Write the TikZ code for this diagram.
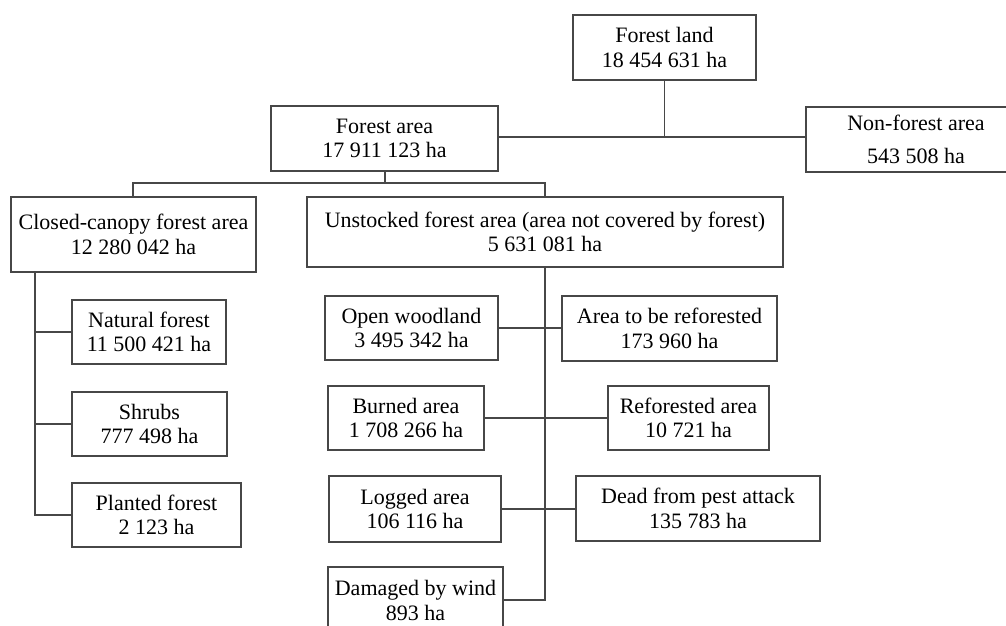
\documentclass[tikz,border=0pt]{standalone}
\usepackage{fontspec}
\setmainfont{Liberation Serif}
\newcommand\mybox[7][]{%
  \node[box,#1,minimum width={#5pt-#3pt},minimum height={#6pt-#4pt}] (#2) at ({(#3+#5)/2},{(#4+#6)/2}) {#7};}
\begin{document}
\begin{tikzpicture}[x=1pt,y=-1pt,
  box/.style={draw=black!72, line width=1.4pt, inner sep=0pt, align=center,
    font=\fontsize{22}{24.5}\selectfont, text=black},
  conn/.style={draw=black!72, line width=1.4pt}]
\useasboundingbox (0,0) rectangle (1006,625);
\clip (0,0) rectangle (1006,625);

\mybox{land}{573}{15}{756}{80}{Forest land\\18 454 631 ha}
\mybox{farea}{271}{106}{498}{171}{Forest area\\17 911 123 ha}
\mybox[font=\fontsize{22}{33}\selectfont]{nonf}{806}{107}{1026}{172}{Non-forest area\\543 508 ha}
\mybox{closed}{11}{197}{256}{272}{Closed-canopy forest area\\12 280 042 ha}
\mybox{unst}{307}{197}{783}{267}{Unstocked forest area (area not covered by forest)\\5 631 081 ha}
\mybox{natural}{72}{300}{226}{364}{Natural forest\\11 500 421 ha}
\mybox{shrubs}{72}{392}{227}{456}{Shrubs\\777 498 ha}
\mybox{planted}{72}{483}{241}{547}{Planted forest\\2 123 ha}
\mybox{open}{325}{296}{498}{360}{Open woodland\\3 495 342 ha}
\mybox{tobe}{562}{296}{777}{361}{Area to be reforested\\173 960 ha}
\mybox{burned}{328}{386}{484}{450}{Burned area\\1 708 266 ha}
\mybox{refor}{608}{386}{769}{450}{Reforested area\\10 721 ha}
\mybox{logged}{329}{476}{501}{542}{Logged area\\106 116 ha}
\mybox{dead}{576}{476}{820}{541}{Dead from pest attack\\135 783 ha}
\mybox{wind}{328}{567}{503}{634}{Damaged by wind\\893 ha}

% top level
\coordinate (j1) at (664.5,137);
\draw[conn] (land.south) -- (j1);
\draw[conn] (farea.east |- j1) -- (nonf.west |- j1);
% forest area split
\coordinate (j2) at (385,183);
\coordinate (cl) at (133,183);
\coordinate (ur) at (545,183);
\draw[conn] (farea.south -| j2) -- (j2);
\draw[conn] (closed.north -| cl) -- (cl) -- (ur) -- (unst.north -| ur);
% closed canopy trunk
\coordinate (ct) at (35,272);
\draw[conn] (ct) -- (ct |- planted.west) -- (planted.west);
\draw[conn] (ct |- natural.west) -- (natural.west);
\draw[conn] (ct |- shrubs.west) -- (shrubs.west);
% unstocked trunk
\coordinate (ut) at (545,267);
\draw[conn] (ut) -- (ut |- 0,600) -- (wind.east |- 0,600);
\draw[conn] (open.east) -- (tobe.west |- open.east);
\draw[conn] (burned.east) -- (refor.west |- burned.east);
\draw[conn] (logged.east) -- (dead.west |- logged.east);
\end{tikzpicture}
\end{document}
